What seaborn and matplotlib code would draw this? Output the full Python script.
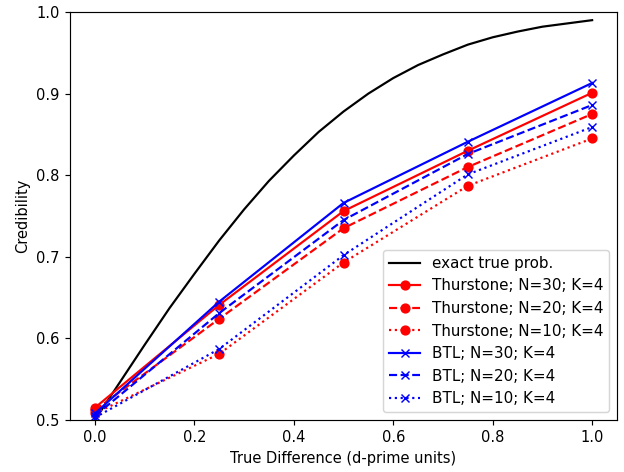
import numpy as np
import pandas as pd
import seaborn as sns
import matplotlib
matplotlib.use("Agg")
from matplotlib import pyplot as plt

# true difference values where the models were evaluated
d_prime = [0.0, 0.25, 0.5, 0.75, 1.0]

# exact curve
d_exact = [0.0, 0.05, 0.1, 0.15, 0.2, 0.25, 0.3, 0.35, 0.4, 0.45, 0.5,
           0.55, 0.6, 0.65, 0.7, 0.75, 0.8, 0.85, 0.9, 0.95, 1.0]
p_exact = [0.500, 0.546, 0.592, 0.637, 0.679, 0.720, 0.758, 0.793, 0.824, 0.853, 0.878,
           0.900, 0.919, 0.935, 0.948, 0.960, 0.969, 0.976, 0.982, 0.986, 0.990]

# credibility per model
thurstone_n30 = [0.515, 0.641, 0.756, 0.830, 0.901]
thurstone_n20 = [0.512, 0.624, 0.735, 0.810, 0.875]
thurstone_n10 = [0.508, 0.581, 0.693, 0.787, 0.845]
btl_n30 = [0.508, 0.645, 0.766, 0.841, 0.913]
btl_n20 = [0.505, 0.631, 0.745, 0.826, 0.886]
btl_n10 = [0.503, 0.587, 0.702, 0.801, 0.859]

dpi = 105
fig, ax = plt.subplots(figsize=(624 / dpi, 472 / dpi), dpi=dpi)
fig.subplots_adjust(left=70 / 624, right=617 / 624, top=1 - 12 / 472, bottom=1 - 420 / 472)

sns.lineplot(x=d_exact, y=p_exact, color="black", label="exact true prob.", ax=ax)

series = [
    (thurstone_n30, "red", "o", "-", "Thurstone; N=30; K=4"),
    (thurstone_n20, "red", "o", "--", "Thurstone; N=20; K=4"),
    (thurstone_n10, "red", "o", ":", "Thurstone; N=10; K=4"),
    (btl_n30, "blue", "x", "-", "BTL; N=30; K=4"),
    (btl_n20, "blue", "x", "--", "BTL; N=20; K=4"),
    (btl_n10, "blue", "x", ":", "BTL; N=10; K=4"),
]
for vals, col, mk, ls, lab in series:
    sns.lineplot(x=d_prime, y=vals, color=col, marker=mk, linestyle=ls,
                 markeredgecolor=col, markeredgewidth=1.0, markersize=6,
                 label=lab, ax=ax)

ax.set_ylim(0.5, 1.0)
ax.set_xlabel("True Difference (d-prime units)")
ax.set_ylabel("Credibility")
ax.legend(loc="lower right", fontsize=10.4)

plt.savefig("out.png")
